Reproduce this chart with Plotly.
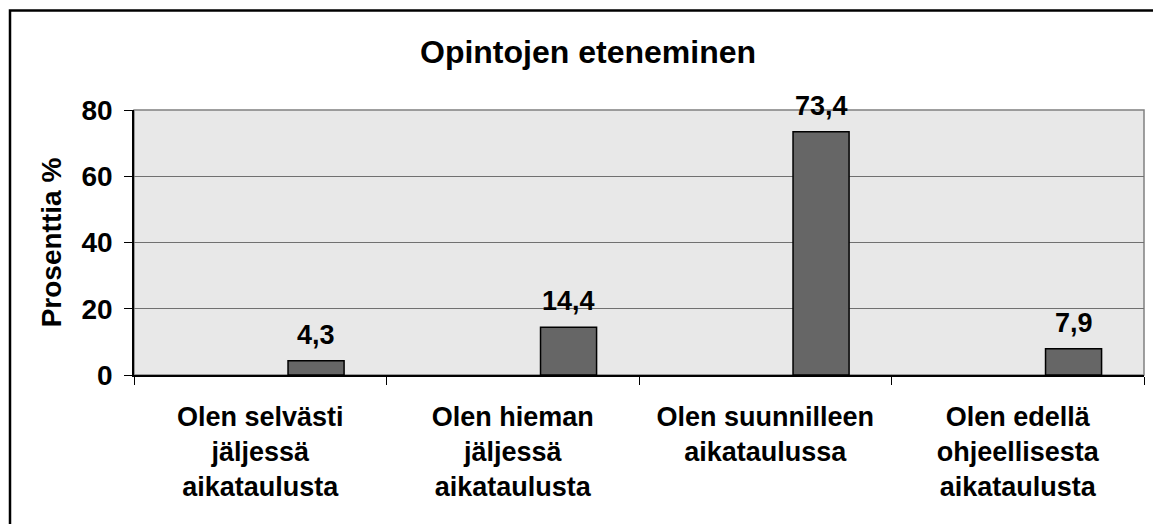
import plotly.graph_objects as go

categories = [
    'Olen selvästi<br>jäljessä<br>aikataulusta',
    'Olen hieman<br>jäljessä<br>aikataulusta',
    'Olen suunnilleen<br>aikataulussa',
    'Olen edellä<br>ohjeellisesta<br>aikataulusta',
]
values = [4.3, 14.4, 73.4, 7.9]
y_ticks = [0, 20, 40, 60, 80]

W, H = 1153, 524
margin = dict(l=134, r=9, t=110, b=149)
plot_w = W - margin['l'] - margin['r']
plot_h = H - margin['t'] - margin['b']

bar_width = 0.222
bar_offset = 0.11
font = 'Liberation Sans, Arial, sans-serif'

fig = go.Figure(go.Bar(
    x=categories,
    y=values,
    width=bar_width,
    offset=bar_offset,
    marker=dict(color='#666666', line=dict(color='black', width=1.5)),
    showlegend=False,
    hoverinfo='skip',
))

# data labels above the bars
px_per_cat = plot_w / len(categories)
for c, v in zip(categories, values):
    fig.add_annotation(
        x=c, y=v, xref='x', yref='y',
        text=f'{v:.1f}'.replace('.', ','),
        showarrow=False, yanchor='bottom',
        xshift=(bar_offset + bar_width / 2) * px_per_cat,
        yshift=9,
        font=dict(family=font, size=27, color='black', weight='bold'),
    )

# outer chart border
fig.add_shape(
    type='rect', xref='paper', yref='paper',
    x0=(10 - margin['l']) / plot_w, x1=1.05,
    y0=-0.8, y1=1 + (margin['t'] - 10.5) / plot_h,
    line=dict(color='black', width=2.5), layer='above',
)
# plot area border (top/right)
fig.add_shape(
    type='rect', xref='paper', yref='paper', x0=0, x1=1, y0=0, y1=1,
    line=dict(color='#808080', width=1.5), layer='below',
)

fig.update_layout(
    width=W, height=H,
    margin=margin,
    paper_bgcolor='white',
    plot_bgcolor='#E8E8E8',
    font=dict(family=font, color='black'),
    title=dict(
        text='Opintojen eteneminen',
        x=(588 - margin['l']) / plot_w, xref='paper', xanchor='center',
        y=1 - 52 / H, yref='container', yanchor='middle',
        font=dict(size=32, weight='bold', family=font, color='black'),
    ),
    xaxis=dict(
        type='category',
        tickson='boundaries',
        ticks='outside', ticklen=8, tickcolor='black',
        showgrid=False,
        showline=True, linecolor='black', linewidth=1.5,
        tickfont=dict(size=27, weight='bold', family=font),
        ticklabelstandoff=17,
    ),
    yaxis=dict(
        range=[0, 80],
        tickvals=y_ticks,
        ticks='outside', ticklen=8, tickcolor='black',
        showgrid=True, gridcolor='#707070', gridwidth=1.2,
        showline=True, linecolor='black', linewidth=1.5,
        zeroline=False,
        tickfont=dict(size=28, weight='bold', family=font),
        ticklabelstandoff=6,
        title=dict(text='Prosenttia %', font=dict(size=28, weight='bold', family=font), standoff=12),
    ),
)

fig.write_html('out.html', config={'displayModeBar': False},
               post_script="document.body.style.margin='0px';")
